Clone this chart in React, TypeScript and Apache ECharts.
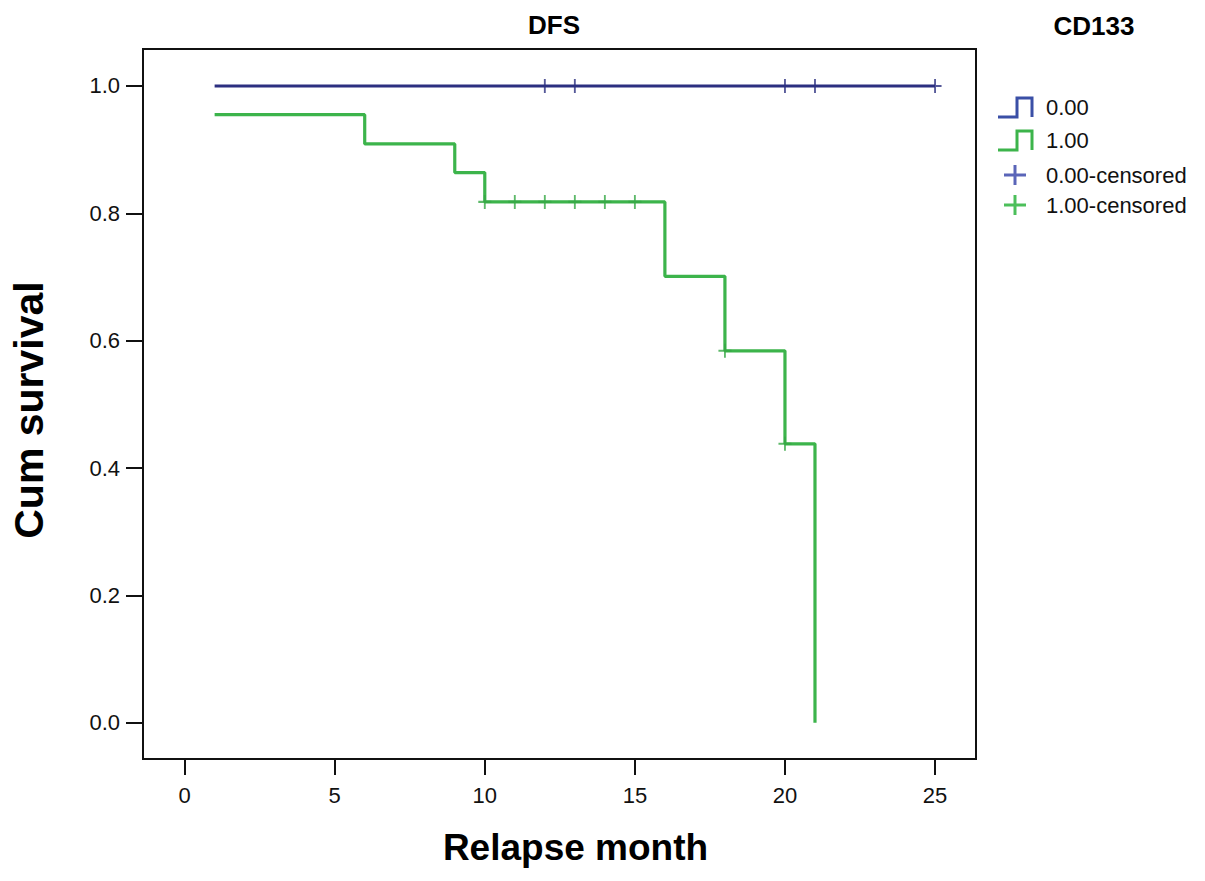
import React, { useEffect, useRef } from "react";
import * as echarts from "echarts";

// Kaplan-Meier step data (CD133 = 1.00, green)
const greenTimes = [1, 6, 9, 10, 16, 18, 20, 21];
const greenSurv = [0.955, 0.909, 0.864, 0.818, 0.701, 0.584, 0.438, 0.0];
// CD133 = 0.00 (blue)
const blueTimes = [1, 25];
const blueSurv = [1.0, 1.0];
// censored marks
const greenCensorTimes = [10, 11, 12, 13, 14, 15, 18, 20];
const greenCensorSurv = [0.818, 0.818, 0.818, 0.818, 0.818, 0.818, 0.584, 0.438];
const blueCensorTimes = [12, 13, 20, 21, 25];
const blueCensorSurv = [1.0, 1.0, 1.0, 1.0, 1.0];
// ticks
const xTicks = [0, 5, 10, 15, 20, 25];
const yTicks = [0, 0.2, 0.4, 0.6, 0.8, 1.0];
const legendLabels = ["0.00", "1.00", "0.00-censored", "1.00-censored"];

const FONT = '"Liberation Sans", Arial, Helvetica, sans-serif';
const BLUE = "#2c2f80";
const GREEN = "#3cb44b";
const PLUS = "path://M6,0 H8 V6 H14 V8 H8 V14 H6 V8 H0 V6 H6 Z";

export default function App() {
  const ref = useRef<HTMLDivElement>(null);
  useEffect(() => {
    if (!ref.current) return;
    const chart = echarts.init(ref.current, null, { renderer: "svg" });
    const zip = (a: number[], b: number[]) => a.map((v, i) => [v, b[i]]);

    const legendY = [107, 140, 175, 205];
    const legendGraphics: any[] = [];
    const stepPts = (cy: number) => [
      [998, cy + 10],
      [1017, cy + 10],
      [1017, cy - 9],
      [1032, cy - 9],
      [1032, cy + 10],
    ];
    legendGraphics.push({
      type: "polyline",
      shape: { points: stepPts(legendY[0]) },
      style: { stroke: "#3a4fa6", lineWidth: 3, fill: null },
    });
    legendGraphics.push({
      type: "polyline",
      shape: { points: stepPts(legendY[1]) },
      style: { stroke: GREEN, lineWidth: 3, fill: null },
    });
    const plus = (cx: number, cy: number, color: string) => [
      { type: "line", shape: { x1: cx - 11, y1: cy, x2: cx + 11, y2: cy }, style: { stroke: color, lineWidth: 3 } },
      { type: "line", shape: { x1: cx, y1: cy - 10, x2: cx, y2: cy + 10 }, style: { stroke: color, lineWidth: 3 } },
    ];
    legendGraphics.push(...plus(1015, legendY[2], "#5a65b8"));
    legendGraphics.push(...plus(1015, legendY[3], "#4cbf5a"));
    legendLabels.forEach((t, i) => {
      legendGraphics.push({
        type: "text",
        x: 1046,
        y: legendY[i],
        style: {
          text: t,
          font: `22px ${FONT}`,
          fill: "#111",
          align: "left",
          verticalAlign: "middle",
          textAlign: "left",
          textVerticalAlign: "middle",
        },
      });
    });

    chart.setOption({
      animation: false,
      backgroundColor: "#fff",
      textStyle: { fontFamily: FONT },
      grid: {
        left: 141,
        top: 49,
        width: 835,
        height: 710,
        show: true,
        borderColor: "#111",
        borderWidth: 2,
        backgroundColor: "transparent",
      },
      xAxis: {
        type: "value",
        min: -1.386,
        max: 26.364,
        name: "Relapse month",
        nameLocation: "middle",
        nameGap: 70,
        nameTextStyle: {
          fontSize: 37,
          fontWeight: "bold",
          color: "#000",
          fontFamily: FONT,
          padding: [0, 0, 0, 32],
        },
        axisLine: { show: true, onZero: false, lineStyle: { color: "#111", width: 2 } },
        axisTick: { show: true, inside: false, length: 16, lineStyle: { color: "#111", width: 2 }, customValues: xTicks },
        axisLabel: { fontSize: 22, color: "#111", margin: 25, customValues: xTicks, fontFamily: FONT },
        splitLine: { show: false },
      },
      yAxis: {
        type: "value",
        min: -0.057,
        max: 1.0581,
        name: "Cum survival",
        nameLocation: "middle",
        nameRotate: 90,
        nameGap: 94,
        nameTextStyle: {
          fontSize: 41,
          fontWeight: "bold",
          color: "#000",
          fontFamily: FONT,
          padding: [0, 12, 0, 0],
        },
        axisLine: { show: true, onZero: false, lineStyle: { color: "#111", width: 2 } },
        axisTick: { show: true, inside: false, length: 17, lineStyle: { color: "#111", width: 2 }, customValues: yTicks },
        axisLabel: {
          fontSize: 22,
          color: "#111",
          margin: 23,
          customValues: yTicks,
          fontFamily: FONT,
          formatter: (v: number) => v.toFixed(1),
        },
        splitLine: { show: false },
      },
      series: [
        {
          name: "0.00",
          type: "line",
          step: "end",
          symbol: "none",
          data: zip(blueTimes, blueSurv),
          lineStyle: { color: BLUE, width: 3 },
          z: 2,
        },
        {
          name: "1.00",
          type: "line",
          step: "end",
          symbol: "none",
          data: zip(greenTimes, greenSurv),
          lineStyle: { color: GREEN, width: 3.2 },
          z: 2,
        },
        {
          name: "0.00-censored",
          type: "scatter",
          symbol: PLUS,
          symbolSize: [13, 14],
          data: zip(blueCensorTimes, blueCensorSurv),
          itemStyle: { color: BLUE },
          z: 3,
        },
        {
          name: "1.00-censored",
          type: "scatter",
          symbol: PLUS,
          symbolSize: [13, 14],
          data: zip(greenCensorTimes, greenCensorSurv),
          itemStyle: { color: "#36a845" },
          z: 3,
        },
      ],
      graphic: [
        {
          type: "text",
          x: 554,
          y: 25,
          style: {
            text: "DFS",
            font: `bold 26px ${FONT}`,
            fill: "#000",
            align: "center",
            verticalAlign: "middle",
            textAlign: "center",
            textVerticalAlign: "middle",
          },
        },
        {
          type: "text",
          x: 1094,
          y: 26,
          style: {
            text: "CD133",
            font: `bold 26px ${FONT}`,
            fill: "#000",
            align: "center",
            verticalAlign: "middle",
            textAlign: "center",
            textVerticalAlign: "middle",
          },
        },
        ...legendGraphics,
      ],
    });
    return () => chart.dispose();
  }, []);
  return (
    <div
      ref={ref}
      style={{ position: "fixed", left: 0, top: 0, width: 1205, height: 881, background: "#fff" }}
    />
  );
}
